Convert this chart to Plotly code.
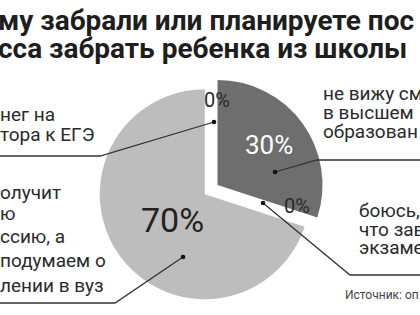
import plotly.graph_objects as go

# ---- data ----
slice_labels = ["не вижу смысла в высшем образовании", "получит профессию, а потом подумаем о поступлении в вуз"]
slice_values = [30, 70]
slice_colors = ["#6e6e6e", "#bdbdbd"]
pct_texts = ["30%", "70%"]
zero_texts = ["0%", "0%"]
title_lines = ["му забрали или планируете пос", "сса забрать ребенка из школы"]
label_tl = ["нег на", "тора к ЕГЭ"]
label_tr = ["не вижу см", "в высшем", "образован"]
label_r = ["боюсь,", "что зав", "экзаме"]
label_bl = ["олучит", "ю", "ссию, а", "подумаем о", "лении в вуз"]
source_text = "Источник: оп"

W, H = 420, 315
def px(x): return x / W
def py(y): return 1 - y / H

fig = go.Figure()
fig.add_trace(go.Pie(
    labels=slice_labels, values=slice_values, sort=False, direction="clockwise",
    rotation=0, pull=[0.15, 0], marker=dict(colors=slice_colors, line=dict(width=0)),
    textinfo="none", hoverinfo="skip", showlegend=False,
    domain=dict(x=[0.2, 0.775], y=[0.0, 0.767]),
))

ann = []
def text(x, y, s, size, color="#222222", anchor="left", family="Roboto", bold=False):
    ann.append(dict(x=px(x), y=py(y), xref="paper", yref="paper", text=(f"<b>{s}</b>" if bold else s),
                    showarrow=False, xanchor=anchor, yanchor="middle",
                    font=dict(family=family, size=size, color=color)))

# title
text(-4, 20, title_lines[0], 28, "#1e1e1e", bold=True)
text(-4, 48, title_lines[1], 28, "#1e1e1e", bold=True)

# labels
for i, s in enumerate(label_tl):
    text(-2, 114 + i * 20, s, 19, "#2a2a2a")
for i, s in enumerate(label_tr):
    text(321, 93 + i * 19, s, 19, "#2a2a2a")
for i, s in enumerate(label_r):
    text(357, 211 + i * 18, s, 19, "#2a2a2a")
bl_y = [192, 213, 236, 260, 285]
for s, y in zip(label_bl, bl_y):
    text(-2, y, s, 19, "#2a2a2a")

# percentages
text(217, 100, zero_texts[0], 20, "#2a2a2a", anchor="center")
text(297, 206, zero_texts[1], 20, "#2a2a2a", anchor="center")
text(269, 145, pct_texts[0], 26, "#ffffff", anchor="center")
text(172, 220, pct_texts[1], 34, "#222222", anchor="center")

text(421, 295, source_text, 12, "#444444", anchor="right")

# connectors
shapes = []
def poly(pts):
    path = "M " + " L ".join(f"{px(x)},{py(y)}" for x, y in pts)
    shapes.append(dict(type="path", xref="paper", yref="paper", path=path,
                       line=dict(color="#333333", width=1.3)))
def dot(x, y, r=2.3):
    shapes.append(dict(type="circle", xref="paper", yref="paper",
                       x0=px(x - r), x1=px(x + r), y0=py(y + r), y1=py(y - r),
                       fillcolor="#111111", line=dict(width=0)))

poly([(0, 156), (100, 156), (214, 122)]); dot(214, 122)
poly([(275, 172), (317, 160), (420, 160)]); dot(275, 172)
poly([(263, 203), (350, 275), (420, 275)]); dot(263, 203)
poly([(183, 257), (115, 303), (0, 303)]); dot(183, 257)

fig.update_layout(width=W, height=H, margin=dict(l=0, r=0, t=0, b=0),
                  paper_bgcolor="white", plot_bgcolor="white",
                  annotations=ann, shapes=shapes)
fig.write_html("out.html")
